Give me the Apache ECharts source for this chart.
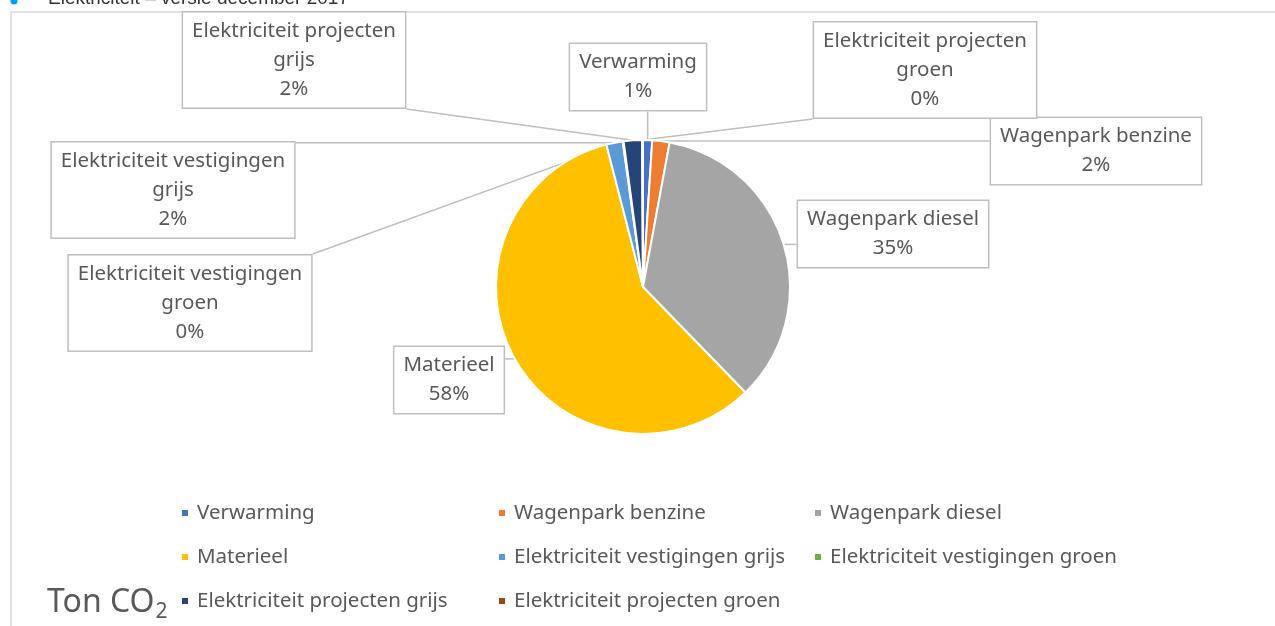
<!DOCTYPE html>
<html>
<head>
<meta charset="utf-8">
<script src="https://cdn.jsdelivr.net/npm/echarts@6/dist/echarts.min.js"></script>
<style>
  html, body { margin: 0; padding: 0; background: #fff; }
  #chart { width: 1275px; height: 626px; }
</style>
</head>
<body>
<div id="chart"></div>
<script>
// data
const categories = [
  "Verwarming",
  "Wagenpark benzine",
  "Wagenpark diesel",
  "Materieel",
  "Elektriciteit vestigingen grijs",
  "Elektriciteit vestigingen groen",
  "Elektriciteit projecten grijs",
  "Elektriciteit projecten groen",
];
const shares = [1.0, 1.9, 34.8, 58.2, 1.8, 0.1, 2.0, 0.1];
const colors = ["#4472C4", "#ED7D31", "#A5A5A5", "#FFC000", "#5B9BD5", "#70AD47", "#264478", "#9E480E"];

// label box centres (layout only)
const labelBoxes = [
  { x: 638, y: 77 },
  { x: 1096, y: 151 },
  { x: 893, y: 234 },
  { x: 449, y: 380 },
  { x: 173, y: 190 },
  { x: 190, y: 303 },
  { x: 294, y: 60 },
  { x: 925, y: 70 },
];

const CX = 643, CY = 287, R = 147;
const textColor = "#595959";
const font = "'Noto Sans', sans-serif";
const total = shares.reduce((a, b) => a + b, 0);

// point on the pie edge in the middle of slice i (start at 12 o'clock, clockwise)
function sliceAnchor(i) {
  let before = 0;
  for (let k = 0; k < i; k++) before += shares[k];
  const a = ((before + shares[i] / 2) / total) * Math.PI * 2;
  return [CX + R * Math.sin(a), CY - R * Math.cos(a)];
}

const chart = echarts.init(document.getElementById("chart"));

const legendCol = (names, left) => ({
  data: names,
  orient: "vertical",
  left: left,
  top: 501,
  padding: 0,
  itemGap: 20,
  icon: "rect",
  itemWidth: 8,
  itemHeight: 8,
  selectedMode: false,
  textStyle: { color: textColor, fontSize: 20.5, lineHeight: 24, fontFamily: font, padding: [0, 0, 0, 3] },
});

chart.setOption({
  animation: false,
  color: colors,
  graphic: [
    {
      type: "rect",
      shape: { x: 11, y: 12, width: 1400, height: 800 },
      style: { fill: "none", stroke: "#d9d9d9", lineWidth: 1.5 },
      silent: true,
    },
    {
      type: "circle",
      shape: { cx: 14, cy: 1, r: 3.5 },
      style: { fill: "#00a0e9" },
    },
    {
      type: "text",
      left: 48,
      top: -11,
      style: { text: "Elektriciteit – versie december 2017", fill: "#333", fontSize: 19, fontFamily: "'Liberation Sans', sans-serif" },
    },
    {
      type: "text",
      left: 47,
      top: 587,
      style: {
        text: "{a|Ton CO}{b|2}",
        rich: {
          a: { fill: textColor, fontSize: 32, lineHeight: 40, verticalAlign: "middle", fontFamily: font },
          b: { fill: textColor, fontSize: 21, lineHeight: 21, verticalAlign: "bottom", fontFamily: font, padding: [0, 0, 0, 1] },
        },
      },
    },
  ],
  legend: [
    legendCol([categories[0], categories[3], categories[6]], 180),
    legendCol([categories[1], categories[4], categories[7]], 497),
    legendCol([categories[2], categories[5]], 813),
  ],
  series: [
    {
      type: "pie",
      center: [CX, CY],
      radius: R,
      startAngle: 90,
      clockwise: true,
      avoidLabelOverlap: false,
      itemStyle: { borderColor: "#fff", borderWidth: 2 },
      label: {
        show: true,
        position: "outside",
        color: textColor,
        fontSize: 20.5,
        fontFamily: font,
        lineHeight: 29,
        align: "center",
        backgroundColor: "#fff",
        borderColor: "#bfbfbf",
        borderWidth: 1.5,
        padding: [4, 9, 4, 9],
        formatter: (p) => {
          let name = p.name;
          if (name.indexOf("Elektriciteit") === 0) {
            const cut = name.lastIndexOf(" ");
            name = name.slice(0, cut) + "\n" + name.slice(cut + 1);
          }
          return name + "\n" + Math.round(p.percent) + "%";
        },
      },
      labelLine: {
        show: true,
        length: 10,
        length2: 10,
        lineStyle: { color: "#bfbfbf", width: 1.5 },
      },
      labelLayout: (params) => {
        const i = params.dataIndex;
        const b = labelBoxes[i];
        const w = params.labelRect.width, h = params.labelRect.height;
        const anchor = sliceAnchor(i);
        const ax = Math.min(Math.max(anchor[0], b.x - w / 2), b.x + w / 2);
        const ay = Math.min(Math.max(anchor[1], b.y - h / 2), b.y + h / 2);
        return {
          x: b.x,
          y: b.y,
          align: "center",
          verticalAlign: "middle",
          labelLinePoints: [anchor, anchor, [ax, ay]],
        };
      },
      data: categories.map((name, i) => ({ name: name, value: shares[i] })),
    },
  ],
});
</script>
</body>
</html>
